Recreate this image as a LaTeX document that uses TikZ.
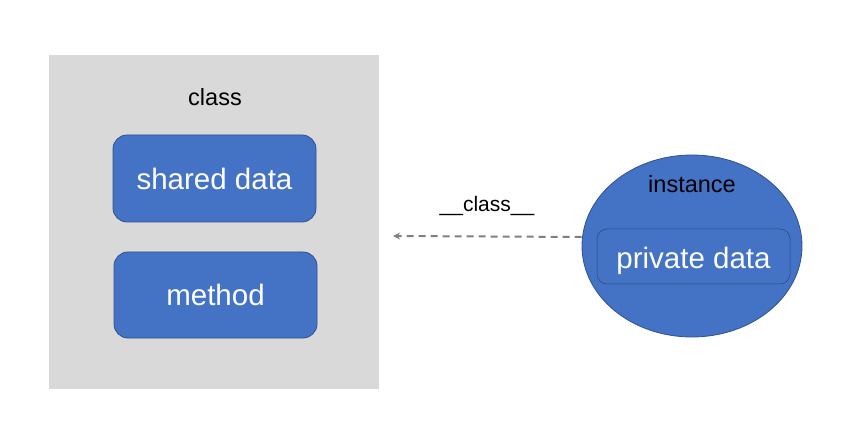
\documentclass[tikz,border=0pt]{standalone}
\usepackage{fontspec}
\setmainfont{Liberation Sans}
\usetikzlibrary{shapes.geometric,arrows.meta}
\definecolor{blu}{HTML}{4472C4}
\definecolor{bluedge}{HTML}{2F528F}
\definecolor{panel}{HTML}{D9D9D9}
\definecolor{arr}{HTML}{808080}
\tikzset{
  bluebox/.style={draw=bluedge, line width=0.8pt, fill=blu, rounded corners=14pt, text=white, inner sep=0pt, font=\fontsize{29.5}{35}\selectfont},
  lbl/.style={inner sep=0pt, font=\fontsize{23.5}{28}\selectfont, text=black},
}
\begin{document}
\begin{tikzpicture}[x=1pt,y=-1pt]
\useasboundingbox (0,0) rectangle (853,443);
\fill[white] (0,0) rectangle (853,443);
\node[fill=panel, minimum width=330pt, minimum height=334pt, inner sep=0pt] (cls) at (214,222) {};
\node[lbl] (clslbl) at (215,97) {class};
\node[bluebox, minimum width=203pt, minimum height=87pt] (shared) at (214.5,178.5) {shared data};
\node[bluebox, minimum width=203pt, minimum height=86pt] (meth) at (215.5,295) {method};
\node[ellipse, draw=bluedge, line width=0.8pt, fill=blu, minimum width=220pt, minimum height=182pt, inner sep=0pt] (inst) at (692,246) {};
\node[lbl] (instlbl) at (692,184) {instance};
\node[bluebox, draw=bluedge!90!black, line width=0.5pt, rounded corners=10pt, minimum width=193pt, minimum height=55pt, text height=31pt, text depth=6pt] (priv) at (693.5,256.5) {private data};
\coordinate (aend) at (393,236);
\draw[arr, line width=2pt, dash pattern=on 7pt off 5pt, -{Stealth[length=7pt,width=7pt]}] ([yshift=9pt]inst.west) -- (aend);
\node[lbl, font=\fontsize{21}{25}\selectfont] (arrlbl) at (487,206) {\_\_class\_\_};
\end{tikzpicture}
\end{document}
